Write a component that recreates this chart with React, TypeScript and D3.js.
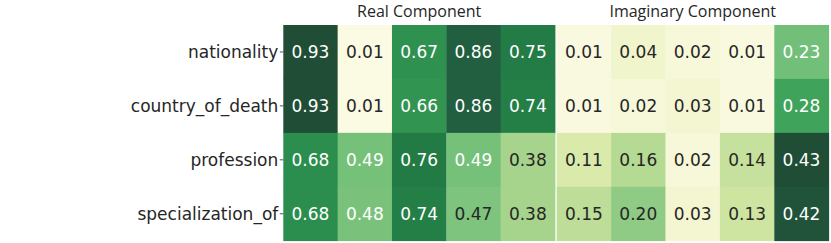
import React from 'react';
import * as d3 from 'd3';

const rowLabels = ['nationality', 'country_of_death', 'profession', 'specialization_of'];
const panelTitles = ['Real Component', 'Imaginary Component'];

const realValues = [
  [0.93, 0.01, 0.67, 0.86, 0.75],
  [0.93, 0.01, 0.66, 0.86, 0.74],
  [0.68, 0.49, 0.76, 0.49, 0.38],
  [0.68, 0.48, 0.74, 0.47, 0.38],
];
const imagValues = [
  [0.01, 0.04, 0.02, 0.01, 0.23],
  [0.01, 0.02, 0.03, 0.01, 0.28],
  [0.11, 0.16, 0.02, 0.14, 0.43],
  [0.15, 0.2, 0.03, 0.13, 0.42],
];

const W = 831;
const H = 243;
const top = 25;
const bottom = 240.7;
const panels = [
  { title: panelTitles[0], values: realValues, x0: 283.3, x1: 555 },
  { title: panelTitles[1], values: imagValues, x0: 556.7, x1: 828.7 },
];

// colour ramp (yellow-green, dark end a bit greyed)
const colorStops = ['#fcfbe6', '#eef3c4', '#d6e8a6', '#a6d48c', '#74c07a', '#3fa35c', '#2a8c4c', '#227945', '#215f40', '#1f4d36'];
const ramp = d3.scaleLinear<string>()
  .domain([0, 0.12, 0.28, 0.41, 0.53, 0.65, 0.74, 0.82, 0.925, 1])
  .range(colorStops)
  .interpolate(d3.interpolateRgb)
  .clamp(true);

const cellFont = '"DejaVu Sans", sans-serif';

const Panel = ({ title, values, x0, x1 }) => {
  const cols = d3.range(values[0].length);
  const x = d3.scaleBand<number>().domain(cols).range([x0, x1]);
  const y = d3.scaleBand<string>().domain(rowLabels).range([top, bottom]);
  const vmax = d3.max(values.flat()) as number;
  const t = (v: number) => v / vmax;
  return (
    <g>
      <text x={(x0 + x1) / 2} y={17} textAnchor="middle"
        style={{ font: '16px "Open Sans", sans-serif', fill: '#262626' }}>{title}</text>
      {values.map((row, i) => row.map((v, j) => (
        <g key={`${i}-${j}`}>
          <rect x={x(j)} y={y(rowLabels[i])} width={x.bandwidth() + 0.4} height={y.bandwidth() + 0.4}
            fill={ramp(t(v))} />
          <text x={(x(j) as number) + x.bandwidth() / 2} y={(y(rowLabels[i]) as number) + y.bandwidth() / 2}
            textAnchor="middle" dominantBaseline="central"
            style={{ font: `17px ${cellFont}`, fill: t(v) > 0.51 ? '#ffffff' : '#262626' }}>
            {v.toFixed(2)}
          </text>
        </g>
      )))}
    </g>
  );
};

export default function App() {
  const y = d3.scaleBand<string>().domain(rowLabels).range([top, bottom]);
  const axisX = panels[0].x0;
  return (
    <svg width={W} height={H} style={{ position: 'absolute', left: 0, top: 0, background: '#fff' }}>
      {panels.map((p) => <Panel key={p.title} {...p} />)}
      {rowLabels.map((r) => {
        const cy = (y(r) as number) + y.bandwidth() / 2;
        return (
          <g key={r}>
            <line x1={axisX - 3.5} x2={axisX} y1={cy} y2={cy} stroke="#262626" strokeWidth={0.8} />
            <text x={axisX - 5} y={cy} textAnchor="end" dominantBaseline="central"
              style={{ font: `17px ${cellFont}`, fill: '#262626' }}>{r}</text>
          </g>
        );
      })}
    </svg>
  );
}
